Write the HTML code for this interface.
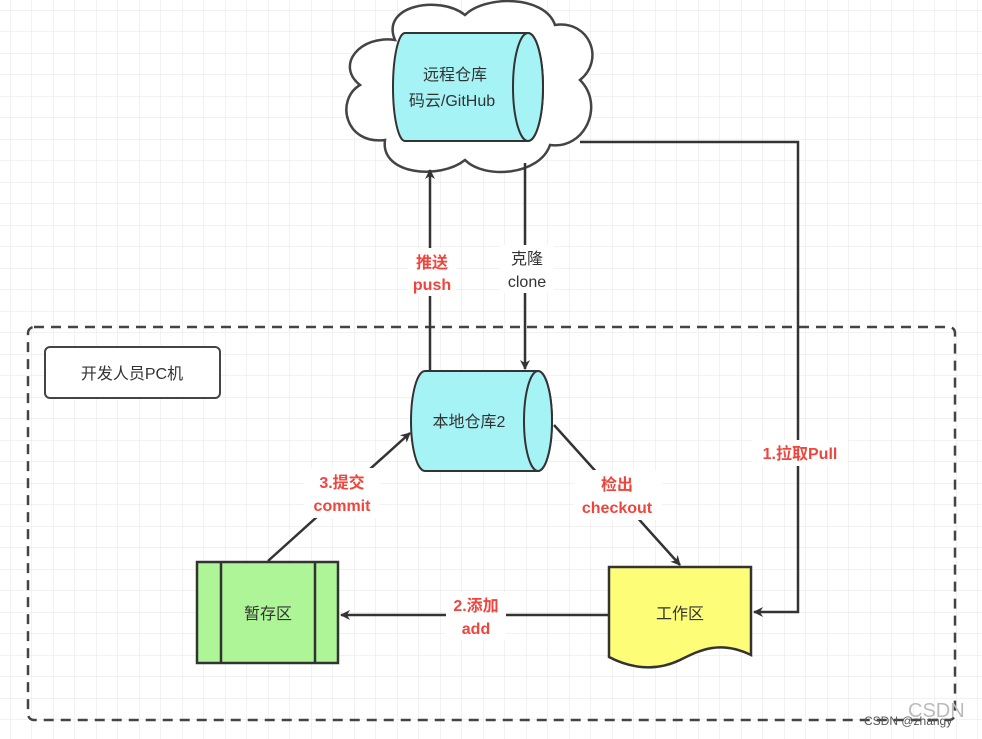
<!DOCTYPE html>
<html><head><meta charset="utf-8"><style>
body{margin:0;background:#fff}
svg{display:block}
text{font-family:"Liberation Sans","Noto Sans CJK SC",sans-serif}
.r{fill:#f0453d;font-weight:bold;font-size:16px}
.k{fill:#333;font-size:16px}
</style></head><body>
<svg width="982" height="739" viewBox="0 0 982 739" xmlns="http://www.w3.org/2000/svg">
<defs>
<pattern id="g" x="10" y="10" width="21.5" height="21.5" patternUnits="userSpaceOnUse">
<path d="M0 0H21.5M0 0V21.5" stroke="#e6e6e6" stroke-width="1" fill="none"/>
</pattern>
<marker id="a" markerWidth="10" markerHeight="10" refX="9" refY="5" orient="auto" markerUnits="userSpaceOnUse">
<path d="M0 0L10 5L0 10L3 5Z" fill="#333"/>
</marker>
</defs>
<rect width="982" height="739" fill="url(#g)"/>
<!-- dashed box -->
<rect x="28" y="327" width="927" height="393" rx="6" fill="none" stroke="#444" stroke-width="2.5" stroke-dasharray="10,7"/>
<rect x="45" y="347" width="175" height="51" rx="5" fill="#fff" stroke="#444" stroke-width="2"/>
<text x="132" y="379" class="k" text-anchor="middle">开发人员PC机</text>
<!-- cloud -->
<path d="M395 40 C380 5 440 -5 465 15 C485 -5 545 -5 555 25 C590 20 605 60 580 80 C605 105 585 150 550 145 C540 175 485 180 465 160 C440 180 380 175 385 140 C345 145 335 100 360 85 C335 65 360 35 395 40Z" fill="#fff" stroke="#444" stroke-width="2.5"/>
<path d="M405 33 H528 A15 54 0 0 1 528 141 H405 A12 54 0 0 1 405 33Z" fill="#a6f3f6" stroke="#333" stroke-width="2"/>
<ellipse cx="528" cy="87" rx="15" ry="54" fill="#a6f3f6" stroke="#333" stroke-width="2"/>
<text x="455" y="80" class="k" text-anchor="middle">远程仓库</text>
<text x="452" y="106" class="k" text-anchor="middle">码云/GitHub</text>
<!-- local cylinder -->
<path d="M425 371 H538 A14 50 0 0 1 538 471 H425 A14 50 0 0 1 425 371Z" fill="#a6f3f6" stroke="#333" stroke-width="2"/>
<ellipse cx="538" cy="421" rx="14" ry="50" fill="#a6f3f6" stroke="#333" stroke-width="2"/>
<text x="469" y="427" class="k" text-anchor="middle">本地仓库2</text>
<!-- staging -->
<rect x="197" y="562" width="141" height="101" fill="#aef597" stroke="#333" stroke-width="2.5"/>
<line x1="221" y1="562" x2="221" y2="663" stroke="#333" stroke-width="2.5"/>
<line x1="315" y1="562" x2="315" y2="663" stroke="#333" stroke-width="2.5"/>
<text x="268" y="619" class="k" text-anchor="middle">暂存区</text>
<!-- work -->
<path d="M609 567 H751 V655 C720 640 700 650 680 660 C655 672 630 668 609 657Z" fill="#fdfd78" stroke="#333" stroke-width="2.5"/>
<text x="680" y="619" class="k" text-anchor="middle">工作区</text>
<!-- connectors -->
<path d="M430 370 V170" stroke="#333" stroke-width="2.5" fill="none" marker-end="url(#a)"/>
<path d="M525 163 V369" stroke="#333" stroke-width="2.5" fill="none" marker-end="url(#a)"/>
<path d="M580 142 H798 V612 H754" stroke="#333" stroke-width="2.5" fill="none" marker-end="url(#a)"/>
<path d="M268 561 L410 433" stroke="#333" stroke-width="2.5" fill="none" marker-end="url(#a)"/>
<path d="M554 425 L680 565" stroke="#333" stroke-width="2.5" fill="none" marker-end="url(#a)"/>
<path d="M608 615 H341" stroke="#333" stroke-width="2.5" fill="none" marker-end="url(#a)"/>
<!-- label backgrounds -->
<rect x="408" y="248" width="48" height="48" fill="#fff"/>
<rect x="500" y="245" width="54" height="48" fill="#fff"/>
<rect x="752" y="440" width="96" height="26" fill="#fff"/>
<rect x="304" y="468" width="76" height="50" fill="#fff"/>
<rect x="574" y="470" width="88" height="50" fill="#fff"/>
<rect x="446" y="592" width="60" height="48" fill="#fff"/>
<text x="432" y="268" class="r" text-anchor="middle">推送</text>
<text x="432" y="290" class="r" text-anchor="middle">push</text>
<text x="527" y="264" class="k" text-anchor="middle">克隆</text>
<text x="527" y="287" class="k" text-anchor="middle">clone</text>
<text x="800" y="459" class="r" text-anchor="middle">1.拉取Pull</text>
<text x="342" y="488" class="r" text-anchor="middle">3.提交</text>
<text x="342" y="511" class="r" text-anchor="middle">commit</text>
<text x="617" y="490" class="r" text-anchor="middle">检出</text>
<text x="617" y="513" class="r" text-anchor="middle">checkout</text>
<text x="476" y="611" class="r" text-anchor="middle">2.添加</text>
<text x="476" y="634" class="r" text-anchor="middle">add</text>
<text x="908" y="717" fill="#bbb" font-size="20">CSDN</text>
<text x="864" y="725" fill="#555" font-size="12">CSDN @zhangy</text>
</svg>
</body></html>
